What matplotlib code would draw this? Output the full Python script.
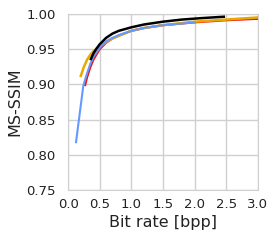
import matplotlib
matplotlib.use("Agg")
import matplotlib.pyplot as plt

red_x = [0.27, 0.3, 0.35, 0.4, 0.5, 0.6, 0.7, 0.8, 1.0, 1.2, 1.5, 2.0, 2.5, 3.0]
red_y = [0.899, 0.910, 0.924, 0.935, 0.950, 0.959, 0.965, 0.969, 0.976, 0.980, 0.984, 0.988, 0.991, 0.993]
orange_x = [0.2, 0.25, 0.3, 0.35, 0.4, 0.5, 0.6, 0.7, 0.8, 1.0, 1.2, 1.5, 2.0, 2.5, 3.0]
orange_y = [0.912, 0.925, 0.935, 0.942, 0.947, 0.954, 0.960, 0.965, 0.969, 0.976, 0.980, 0.984, 0.989, 0.992, 0.995]
blue_x = [0.125, 0.24, 0.3, 0.35, 0.4, 0.5, 0.6, 0.7, 0.8, 1.0, 1.2, 1.5, 1.75, 2.0]
blue_y = [0.818, 0.898, 0.916, 0.929, 0.939, 0.952, 0.961, 0.966, 0.970, 0.976, 0.980, 0.984, 0.986, 0.988]
black_x = [0.36, 0.4, 0.45, 0.5, 0.6, 0.7, 0.8, 1.0, 1.2, 1.5, 1.8, 2.1, 2.46]
black_y = [0.936, 0.944, 0.951, 0.957, 0.966, 0.972, 0.976, 0.981, 0.985, 0.989, 0.992, 0.994, 0.996]

xticks = [0.0, 0.5, 1.0, 1.5, 2.0, 2.5, 3.0]
yticks = [0.75, 0.80, 0.85, 0.90, 0.95, 1.00]

fig = plt.figure(figsize=(2.78, 2.40), dpi=100)
ax = fig.add_axes([0.245, 0.208, 0.683, 0.734])
ax.plot(red_x, red_y, color="#ee1111", lw=1.5, zorder=3)
ax.plot(orange_x, orange_y, color="#e8a800", lw=1.8, zorder=4)
ax.plot(blue_x, blue_y, color="#6699ff", lw=1.5, zorder=5)
ax.plot(black_x, black_y, color="black", lw=1.8, zorder=6)

ax.set_xlim(0, 3)
ax.set_ylim(0.75, 1.0)
ax.set_xticks(xticks)
ax.set_yticks(yticks)
ax.set_xticklabels([f"{v:.1f}" for v in xticks])
ax.set_yticklabels([f"{v:.2f}" for v in yticks])
ax.grid(True, color="#d0d0d0", lw=1)
for s in ax.spines.values():
    s.set_color("#d0d0d0")
ax.tick_params(axis="y", length=0, labelsize=9.5, colors="#222222", pad=9)
ax.tick_params(axis="x", length=0, labelsize=9.5, colors="#222222", pad=5.5)
ax.set_xlabel("Bit rate [bpp]", fontsize=11.5, color="#222222", labelpad=3)
ax.set_ylabel("MS-SSIM", fontsize=11.5, color="#222222", labelpad=3)
fig.savefig("out.png", dpi=100)
